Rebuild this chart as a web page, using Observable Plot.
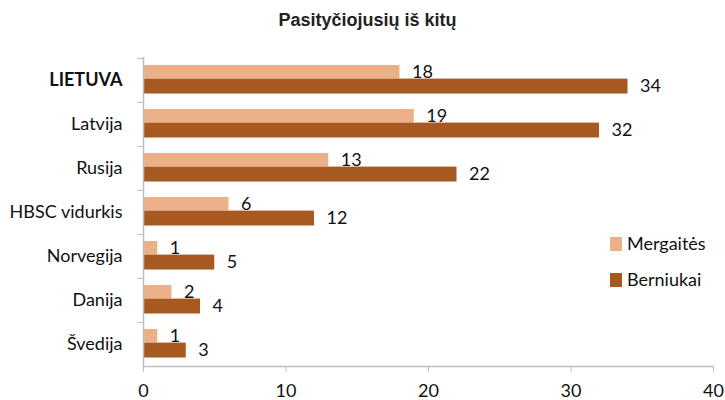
<!DOCTYPE html>
<html>
<head>
<meta charset="utf-8">
<script src="https://cdn.jsdelivr.net/npm/d3@7"></script>
<script src="https://cdn.jsdelivr.net/npm/@observablehq/plot@0.6"></script>
<style>
  html, body { margin: 0; padding: 0; background: #fff; }
  #wrap { position: relative; width: 725px; height: 400px; overflow: hidden; font-family: Lato, sans-serif; color: #111; }
  #title { position: absolute; left: 0; top: 10px; width: 735px; text-align: center; font-family: "Liberation Sans", Arial, sans-serif; font-weight: bold; font-size: 18px; line-height: 20px; color: #222; }
  #legend { position: absolute; left: 610px; top: 230px; font-size: 18px; }
  .item { position: absolute; left: 0; width: 120px; height: 26px; }
  .sw { position: absolute; left: 0; width: 12px; height: 14px; }
  .lab { position: absolute; left: 17px; top: 0; line-height: 26px; white-space: nowrap; }
  #chart { position: absolute; left: 0; top: 0; }
</style>
</head>
<body>
<div id="wrap">
  <div id="chart"></div>
  <div id="title">Pasityčiojusių iš kitų</div>
  <div id="legend"></div>
</div>
<script>
const countries = ["LIETUVA", "Latvija", "Rusija", "HBSC vidurkis", "Norvegija", "Danija", "Švedija"];
const girls = [18, 19, 13, 6, 1, 2, 1];
const boys = [34, 32, 22, 12, 5, 4, 3];
const seriesNames = ["Mergaitės", "Berniukai"];
const seriesColors = ["#EBB088", "#A8591F"];
const xTicks = [0, 10, 20, 30, 40];

const girlRows = countries.map((c, i) => ({country: c, series: seriesNames[0], value: girls[i]}));
const boyRows = countries.map((c, i) => ({country: c, series: seriesNames[1], value: boys[i]}));

const axisGray = "#BFBFBF";

const plot = Plot.plot({
  width: 725,
  height: 400,
  marginLeft: 143,
  marginRight: 12,
  marginTop: 57,
  marginBottom: 34,
  style: {fontFamily: "Lato, sans-serif", fontSize: "18px", color: "#111", background: "transparent", overflow: "visible"},
  x: {domain: [0, 40], ticks: xTicks, label: null},
  y: {domain: countries, padding: 0, axis: null, label: null},
  color: {domain: seriesNames, range: seriesColors},
  marks: [
    Plot.barX(girlRows, {x: "value", y: "country", fill: "series", insetTop: 7, insetBottom: 23.5}),
    Plot.barX(boyRows, {x: "value", y: "country", fill: "series", insetTop: 20.6, insetBottom: 8.5}),
    Plot.text(girlRows, {x: "value", y: "country", text: d => String(d.value), dx: 12, dy: -8.2, textAnchor: "start", fontSize: 18, fill: "#111"}),
    Plot.text(boyRows, {x: "value", y: "country", text: d => String(d.value), dx: 12, dy: 6.1, textAnchor: "start", fontSize: 18, fill: "#111"}),
    Plot.text(countries.filter(c => c !== "LIETUVA"), {y: d => d, text: d => d, frameAnchor: "left", textAnchor: "end", dx: -21, fontSize: 18, fill: "#111"}),
    Plot.text(countries.filter(c => c === "LIETUVA"), {y: d => d, text: d => d, frameAnchor: "left", textAnchor: "end", dx: -21, fontSize: 18, fontWeight: "bold", fill: "#111"}),
    Plot.axisY({tickSize: 6, tickFormat: () => "", dy: -22.07, stroke: axisGray, label: null}),
    Plot.frame({anchor: "bottom", stroke: axisGray, strokeWidth: 1.5}),
    Plot.ruleX([0], {stroke: axisGray, strokeWidth: 1.5}),
    Plot.axisX({ticks: xTicks, tickSize: 6, tickPadding: 12, stroke: axisGray, fill: "#111", fontSize: 18, label: null})
  ]
});
document.getElementById("chart").appendChild(plot);

const legend = document.getElementById("legend");
seriesNames.forEach((name, i) => {
  const item = document.createElement("div");
  item.className = "item";
  item.style.top = (i * 36) + "px";
  const sw = document.createElement("div");
  sw.className = "sw";
  sw.style.background = seriesColors[i];
  sw.style.top = "7px";
  const lab = document.createElement("div");
  lab.className = "lab";
  lab.textContent = name;
  item.appendChild(sw);
  item.appendChild(lab);
  legend.appendChild(item);
});
</script>
</body>
</html>
